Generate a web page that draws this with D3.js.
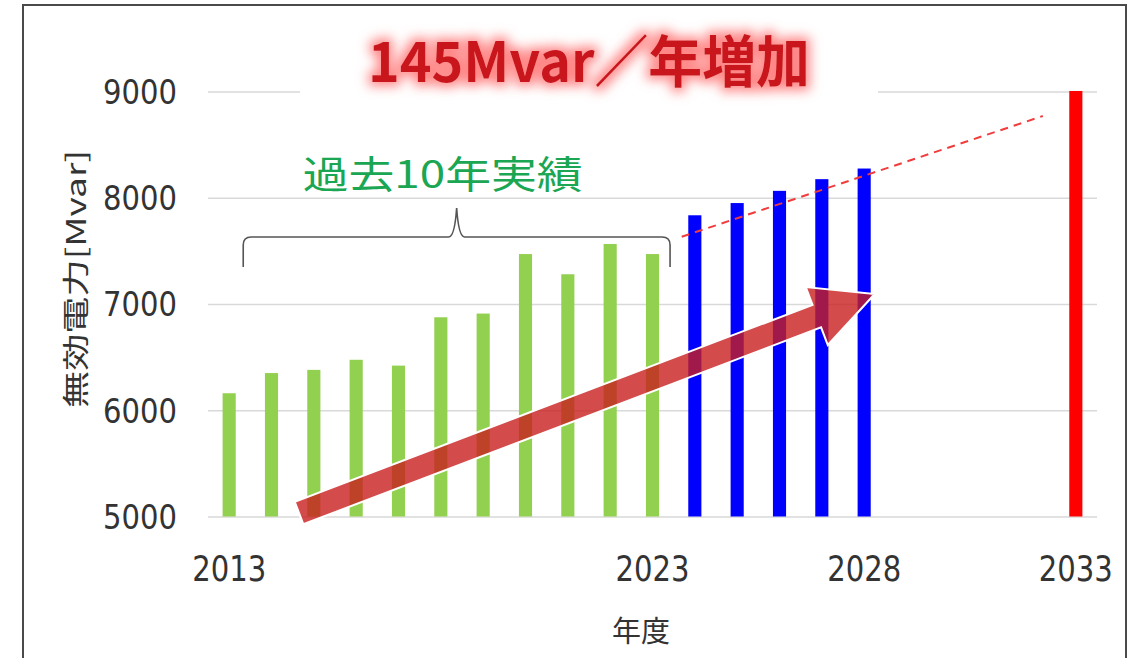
<!DOCTYPE html>
<html><head><meta charset="utf-8">
<script src="https://cdn.jsdelivr.net/npm/d3@7"></script>
<style>body{margin:0;background:#fff;}svg{display:block;}</style>
</head><body>
<svg id="c" width="1135" height="658"></svg>
<script>
// ---- data ----
const years = d3.range(2013, 2034); // 2013..2033 categories
const actualYears = [2013,2014,2015,2016,2017,2018,2019,2020,2021,2022,2023];
const actualValues = [6160,6350,6380,6475,6420,6875,6910,7470,7280,7565,7470];
const planYears = [2024,2025,2026,2027,2028];
const planValues = [7835,7950,8065,8175,8275];
const targetYears = [2033];
const targetValues = [9005];
const yTicks = [5000,6000,7000,8000,9000];
const xTickLabels = [2013,2023,2028,2033];
const titleText = "145Mvar／年増加";
const bracketText = "過去10年実績";
const yTitle = "無効電力[Mvar]";
const xTitle = "年度";
// annotations in data coordinates [year, value]
const trendLine = [[2023.69,7633],[2032.22,8769]];
const bigArrow = [[2014.65,5033],[2028.25,7094]];

const svg = d3.select("#c");
const defs = svg.append("defs");
const f = defs.append("filter").attr("id","glow").attr("x","-20%").attr("y","-60%").attr("width","140%").attr("height","220%");
f.append("feMorphology").attr("in","SourceAlpha").attr("operator","dilate").attr("radius",4).attr("result","d");
f.append("feGaussianBlur").attr("in","d").attr("stdDeviation",6).attr("result","b");
f.append("feFlood").attr("flood-color","#ff6a6a").attr("flood-opacity",0.8);
f.append("feComposite").attr("in2","b").attr("operator","in").attr("result","g");
const fm = f.append("feMerge");
fm.append("feMergeNode").attr("in","g");
fm.append("feMergeNode").attr("in","SourceGraphic");

const x = d3.scaleBand().domain(years).range([208,1097]).paddingInner(0.69).paddingOuter(0.345);
const bw = x.bandwidth();
const xl = d3.scaleLinear().domain([2013,2033]).range([x(2013)+bw/2, x(2033)+bw/2]);
const y = d3.scaleLinear().domain([5000,9000]).range([516.5,91.5]);

// frame
svg.append("rect").attr("x",23).attr("y",5).attr("width",1103).attr("height",720)
  .attr("fill","none").attr("stroke","#4a4a4a").attr("stroke-width",2);

const font = "'Noto Sans CJK JP','Noto Sans',sans-serif";
const numFont = "'DejaVu Sans','Noto Sans',sans-serif";

// gridlines + y axis
const yAxis = d3.axisLeft(y).tickValues(yTicks).tickSize(-(1097-208)).tickFormat(d3.format("d")).tickPadding(31);
const gy = svg.append("g").attr("transform","translate(208,0)").call(yAxis);
gy.select(".domain").remove();
gy.selectAll(".tick line").attr("stroke","#d9d9d9").attr("stroke-width",1.5);
gy.selectAll(".tick text").attr("font-family",numFont).attr("font-size",33).attr("fill","#333").attr("dy","0.36em")
  .attr("textLength",74).attr("lengthAdjust","spacingAndGlyphs");

// x axis labels
const xAxis = d3.axisBottom(x).tickValues(xTickLabels).tickSize(0).tickPadding(40);
const gx = svg.append("g").attr("transform","translate(0,516.5)").call(xAxis);
gx.select(".domain").remove();
gx.selectAll(".tick text").attr("font-family",numFont).attr("font-size",35).attr("fill","#333")
  .attr("textLength",74).attr("lengthAdjust","spacingAndGlyphs");

// bars
function bars(ys, vs, color){
  svg.append("g").selectAll("rect").data(ys.map((d,i)=>({year:d,v:vs[i]}))).join("rect")
    .attr("x",d=>x(d.year)).attr("width",bw)
    .attr("y",d=>y(d.v)).attr("height",d=>y(5000)-y(d.v))
    .attr("fill",color);
}
bars(actualYears, actualValues, "#92d050");
bars(planYears, planValues, "#0000ff");
bars(targetYears, targetValues, "#ff0000");

// dashed trend line
svg.append("line")
  .attr("x1",xl(trendLine[0][0])).attr("y1",y(trendLine[0][1]))
  .attr("x2",xl(trendLine[1][0])).attr("y2",y(trendLine[1][1]))
  .attr("stroke","#f03c3c").attr("stroke-width",2).attr("stroke-dasharray","8,6");

// big arrow
(function(){
  const T=[xl(bigArrow[0][0]), y(bigArrow[0][1])], P=[xl(bigArrow[1][0]), y(bigArrow[1][1])];
  const dx=P[0]-T[0], dy=P[1]-T[1], L=Math.hypot(dx,dy);
  const u=[dx/L,dy/L], n=[-u[1],u[0]];
  const sh=12, hh=31, hl=62;
  const B=[P[0]-u[0]*hl, P[1]-u[1]*hl];
  const pt=(b,k)=>[b[0]+n[0]*k, b[1]+n[1]*k];
  const pts=[pt(T,sh),pt(B,sh),pt(B,hh),P,pt(B,-hh),pt(B,-sh),pt(T,-sh)];
  svg.append("path").attr("d","M"+pts.map(p=>p.join(",")).join("L")+"Z")
    .attr("fill","rgb(201,30,30)").attr("fill-opacity",0.8)
    .attr("stroke","#fff").attr("stroke-width",2).attr("stroke-linejoin","miter");
})();

// bracket
(function(){
  const xa = x(2013)+bw+7.5, xb = x(2023)+bw+11, xm = (xa+xb)/2;
  const yEnd = y(7348), yH = y(7631), yP = y(7904);
  const r = 8;
  const d = `M${xa},${yEnd} L${xa},${yH+r} Q${xa},${yH} ${xa+r},${yH} L${xm-8},${yH} Q${xm-2},${yH} ${xm},${yP}`+
            ` Q${xm+2},${yH} ${xm+8},${yH} L${xb-r},${yH} Q${xb},${yH} ${xb},${yH+r} L${xb},${yEnd}`;
  svg.append("path").attr("d",d).attr("fill","none").attr("stroke","#555").attr("stroke-width",1.6);
  svg.append("text").attr("x",xm-14).attr("y",y(7900)-20).attr("text-anchor","middle")
    .attr("font-family",font).attr("font-size",38).attr("fill","#1aa652")
    .attr("textLength",280).attr("lengthAdjust","spacingAndGlyphs").text(bracketText);
})();

// title with white backing box
svg.append("rect").attr("x",300).attr("y",18).attr("width",578).attr("height",82).attr("fill","#fff");
svg.append("text").attr("x",589).attr("y",82).attr("text-anchor","middle")
  .attr("font-family",font).attr("font-weight","bold").attr("font-size",56)
  .attr("fill","#c8141e").attr("filter","url(#glow)")
  .attr("textLength",442).attr("lengthAdjust","spacingAndGlyphs").text(titleText);

// axis titles
svg.append("text").attr("transform","translate(86,279) rotate(-90)").attr("text-anchor","middle")
  .attr("font-family",font).attr("font-size",27).attr("fill","#333")
  .attr("textLength",258).attr("lengthAdjust","spacingAndGlyphs").text(yTitle);
svg.append("text").attr("x",641).attr("y",642).attr("text-anchor","middle")
  .attr("font-family",font).attr("font-size",29).attr("fill","#333").text(xTitle);
</script>
</body></html>
